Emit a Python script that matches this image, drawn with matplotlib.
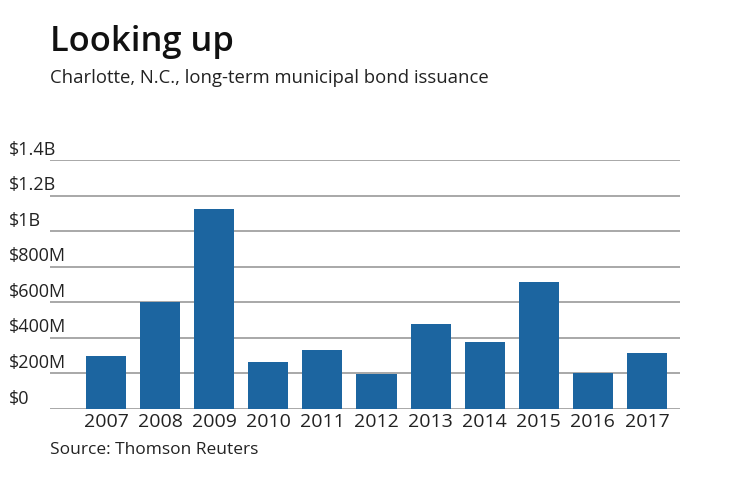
import matplotlib.pyplot as plt
import matplotlib.transforms as mtransforms

plt.rcParams['font.family'] = ['Open Sans', 'DejaVu Sans']

years = ['2007', '2008', '2009', '2010', '2011', '2012', '2013', '2014', '2015', '2016', '2017']
issuance = [298, 601, 1124, 264, 331, 197, 478, 376, 713, 202, 315]  # $M
ytick_vals = [0, 200, 400, 600, 800, 1000, 1200, 1400]
ytick_labels = ['$0', '$200M', '$400M', '$600M', '$800M', '$1B', '$1.2B', '$1.4B']

fig = plt.figure(figsize=(7.4, 4.82), dpi=100)
ax = fig.add_axes([50/740, 1 - 409/482, 630/740, 249/482])

x = range(len(years))
ax.bar(x, issuance, width=0.74, color='#1c65a0', zorder=3)

ax.set_ylim(0, 1400)
ax.set_xlim(-1.035, 10.61)
for v in ytick_vals:
    ax.axhline(v, color='#9a9a9a', lw=1.2, zorder=1)

# y labels sit above the gridlines, flush left
trans = mtransforms.blended_transform_factory(fig.transFigure, ax.transData)
for v, lab in zip(ytick_vals, ytick_labels):
    ax.text(9/740, v + 8, lab, transform=trans, ha='left', va='bottom',
            fontsize=13, color='#222222')

ax.set_yticks([])
ax.set_xticks(list(x))
ax.set_xticklabels(years, fontsize=14, color='#222222')
ax.tick_params(axis='x', length=0, pad=3)
for s in ax.spines.values():
    s.set_visible(False)

fig.text(50/740, 1 - 42/482, 'Looking up', fontsize=24.8, fontweight='semibold',
         color='#111111', va='center', ha='left')
fig.text(50/740, 1 - 78/482, 'Charlotte, N.C., long-term municipal bond issuance',
         fontsize=13.3, color='#222222', va='center', ha='left')
fig.text(50/740, 1 - 450/482, 'Source: Thomson Reuters', fontsize=12.5,
         color='#222222', va='center', ha='left')

fig.savefig('out.png', dpi=100, facecolor='white')
